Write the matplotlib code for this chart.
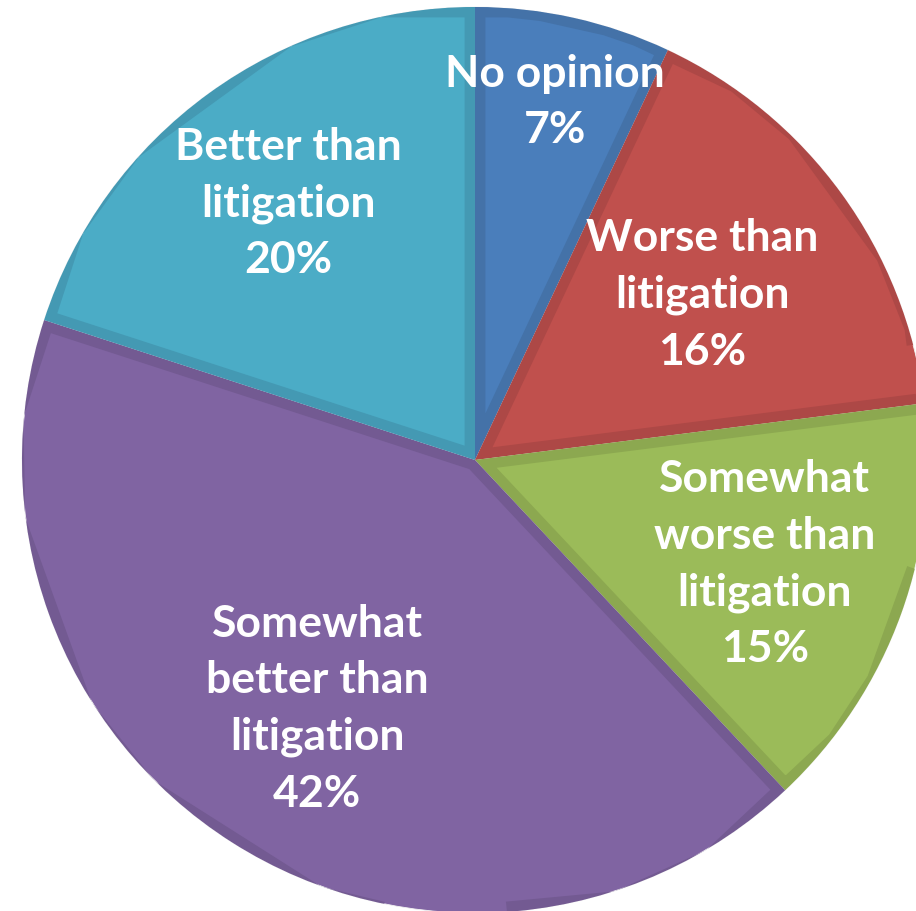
import numpy as np
import matplotlib.pyplot as plt

# Survey answers, clockwise from 12 o'clock
labels = ["No opinion", "Worse than\nlitigation", "Somewhat\nworse than\nlitigation",
          "Somewhat\nbetter than\nlitigation", "Better than\nlitigation"]
shares = [7, 16, 15, 42, 20]

colors = ["#4A7EBB", "#C0504D", "#9BBB59", "#8064A2", "#4BACC6"]
bands = ["#4472A8", "#AD4846", "#8CA850", "#735A92", "#4499B3"]
label_r = [0.81, 0.62, 0.68, 0.65, 0.70]

fig = plt.figure(figsize=(9.16, 9.11), dpi=100)
ax = fig.add_axes([0, 0, 1, 1])

R = 453 / 454
wedges, _ = ax.pie(shares, colors=colors, startangle=90, counterclock=False,
                   radius=R, wedgeprops=dict(linewidth=0))

# inner darker band (inset stroke clipped to each wedge) + thin light seam
for w, bc in zip(wedges, bands):
    band = plt.Polygon(w.get_path().vertices, closed=True, fill=False,
                       edgecolor=bc, linewidth=15, transform=w.get_transform())
    ax.add_patch(band)
    band.set_clip_path(w)
    w.set_edgecolor("#f2f2f2")
    w.set_linewidth(0.6)

for w, lab, s, r in zip(wedges, labels, shares, label_r):
    ang = np.deg2rad((w.theta1 + w.theta2) / 2)
    ax.text(r * R * np.cos(ang), r * R * np.sin(ang), f"{lab}\n{s}%",
            ha="center", va="center", color="white", fontsize=32,
            fontweight="bold", family=["Lato", "DejaVu Sans"], linespacing=1.5)

ax.set_xlim(-475 / 454, (916 - 475) / 454)
ax.set_ylim(-(911 - 460) / 454, 460 / 454)
ax.set_aspect("auto")
ax.axis("off")

fig.savefig("out.png", dpi=100)
